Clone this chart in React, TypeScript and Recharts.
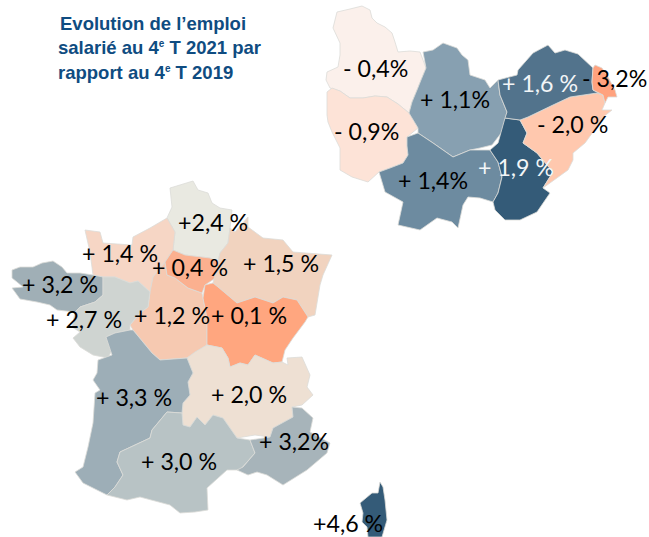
import React from "react";
import { ScatterChart, Scatter, XAxis, YAxis } from "recharts";

type Pt = [number, number];

// Bourgogne-Franche-Comte departments (map space = picture pixels)
const yonne: Pt[] = [[337,12],[350,9],[362,6],[370,10],[372,18],[377,23],[385,27],[392,33],[395,42],[398,52],[410,51],[420,52],[426,68],[421,80],[417,90],[412,102],[409,113],[398,104],[387,97],[375,96],[363,98],[350,98],[340,91],[330,88],[326,80],[327,72],[338,67],[340,55],[340,43],[333,28]];
const nievre: Pt[] = [[327,92],[332,88],[340,91],[350,98],[363,98],[375,96],[387,97],[398,104],[409,113],[414,120],[418,128],[407,137],[407,146],[408,155],[403,163],[390,168],[379,172],[368,182],[352,177],[340,170],[340,148],[332,132],[328,122],[327,115]];
const coteDor: Pt[] = [[423,52],[433,50],[443,43],[457,48],[462,55],[468,60],[470,75],[485,80],[490,88],[498,80],[500,95],[507,112],[505,120],[502,132],[492,145],[480,148],[470,150],[453,157],[443,150],[433,143],[418,133],[418,128],[409,113],[412,102],[417,90],[421,80],[426,68]];
const saoneLoire: Pt[] = [[407,137],[418,133],[433,143],[443,150],[453,157],[470,150],[490,150],[498,162],[502,177],[498,193],[493,202],[480,198],[468,197],[463,205],[458,228],[452,222],[437,218],[420,230],[398,225],[403,202],[385,192],[379,172],[390,168],[403,163],[408,155],[407,146]];
const jura: Pt[] = [[505,118],[520,120],[527,133],[523,143],[537,153],[553,172],[543,188],[550,193],[537,212],[520,220],[505,220],[495,210],[493,202],[498,193],[502,177],[498,162],[490,150],[498,143]];
const doubs: Pt[] = [[520,120],[528,117],[553,105],[570,97],[597,93],[603,95],[605,103],[602,110],[612,110],[602,118],[593,132],[585,143],[573,153],[573,160],[568,170],[543,188],[553,172],[537,153],[523,143],[527,133]];
const hauteSaone: Pt[] = [[498,80],[517,75],[518,70],[533,53],[548,45],[555,53],[565,50],[578,54],[593,68],[592,82],[593,90],[603,95],[597,93],[570,97],[553,105],[528,117],[520,120],[505,118],[507,112],[500,95]];
const belfort: Pt[] = [[595,65],[602,68],[608,77],[615,90],[617,97],[608,97],[605,103],[603,95],[593,90],[592,82],[593,68]];

// France regions
const hautsDeFrance: Pt[] = [[170,188],[193,181],[198,190],[208,193],[212,203],[220,208],[232,210],[230,228],[228,243],[220,253],[218,262],[210,258],[185,255],[173,250],[175,232],[167,218],[172,207]];
const normandie: Pt[] = [[85,230],[100,232],[103,243],[132,245],[133,237],[150,228],[167,218],[175,232],[173,250],[165,262],[153,277],[150,292],[138,281],[130,283],[115,277],[103,277],[93,275],[90,252]];
const ileDeFrance: Pt[] = [[173,250],[185,255],[210,258],[218,262],[217,277],[205,285],[202,293],[188,288],[175,278],[167,275],[165,262]];
const grandEst: Pt[] = [[248,217],[248,227],[263,238],[283,240],[293,252],[332,255],[323,275],[320,285],[315,315],[308,317],[297,300],[283,297],[273,303],[255,297],[237,303],[218,287],[213,283],[218,262],[220,253],[228,243],[230,228],[235,232]];
const bretagne: Pt[] = [[12,270],[20,267],[33,267],[42,263],[53,261],[62,267],[67,273],[80,273],[93,275],[103,277],[103,295],[95,302],[80,307],[75,312],[57,310],[50,305],[37,302],[20,299],[12,288],[23,287],[17,282],[12,278]];
const paysDeLaLoire: Pt[] = [[103,277],[115,277],[130,283],[138,281],[150,292],[148,307],[140,313],[130,325],[130,330],[115,333],[106,337],[112,350],[108,358],[93,355],[80,347],[73,338],[80,332],[72,327],[75,312],[80,307],[95,302],[103,295]];
const centreVal: Pt[] = [[150,292],[153,277],[165,262],[167,275],[175,278],[188,288],[202,293],[203,298],[207,318],[207,345],[187,358],[160,360],[152,353],[133,330],[130,325],[140,313],[148,307]];
const bourgogneFC: Pt[] = [[205,285],[213,283],[218,287],[237,303],[255,297],[273,303],[283,297],[297,300],[308,317],[305,322],[293,338],[285,350],[282,362],[273,363],[255,355],[248,365],[240,363],[230,367],[228,358],[222,348],[207,345],[207,318],[203,298]];
const auvergneRA: Pt[] = [[207,345],[222,348],[228,358],[230,367],[240,363],[248,365],[255,355],[273,363],[282,362],[288,365],[287,358],[302,357],[310,375],[307,387],[313,395],[302,405],[292,407],[293,417],[273,428],[270,437],[255,435],[237,438],[223,418],[213,415],[205,425],[197,417],[190,427],[183,425],[182,413],[183,403],[190,395],[188,382],[193,373],[187,358],[195,352]];
const nouvelleAquitaine: Pt[] = [[106,337],[115,333],[130,330],[133,330],[152,353],[160,360],[187,358],[193,373],[188,382],[190,395],[183,403],[182,413],[167,412],[152,430],[150,438],[120,452],[117,462],[123,475],[115,487],[107,495],[83,483],[75,472],[83,467],[88,447],[93,423],[95,393],[100,390],[93,380],[97,373],[98,360],[112,355]];
const occitanie: Pt[] = [[167,412],[182,413],[183,425],[190,427],[197,417],[205,425],[213,415],[223,418],[237,438],[250,440],[255,453],[240,470],[227,470],[207,488],[208,510],[195,512],[180,513],[170,505],[140,497],[127,500],[107,495],[115,487],[123,475],[117,462],[120,452],[150,438],[152,430]];
const paca: Pt[] = [[292,407],[302,408],[313,418],[310,432],[330,443],[327,453],[307,470],[283,485],[267,475],[257,472],[248,475],[237,470],[243,467],[255,453],[250,440],[270,437],[273,428],[293,417]];
const corse: Pt[] = [[380,482],[383,487],[385,500],[387,520],[382,537],[368,537],[367,527],[362,522],[363,513],[360,503],[372,493],[378,493]];

const regionShapes = [yonne, nievre, coteDor, saoneLoire, jura, doubs, hauteSaone, belfort, hautsDeFrance, normandie, centreVal, ileDeFrance, grandEst, bretagne, paysDeLaLoire, bourgogneFC, auvergneRA, nouvelleAquitaine, occitanie, paca, corse];
const regionColors = ["#fbf0eb", "#fde3d7", "#87a0b1", "#6d8ba0", "#345b78", "#ffc8ae", "#52738c", "#ffa27e", "#e9e9e1", "#f6d6c5", "#f6c9b1", "#fbb08f", "#f1d3bf", "#a0afb6", "#cfd4d1", "#ffa67f", "#eee0d3", "#9daeb7", "#b8c3c5", "#a7b4ba", "#345b78"];

const labelTexts = ["- 0,4%", "+ 1,1%", "+ 1,6 %", "- 3,2%", "- 2,0 %", "- 0,9%", "+ 1,4%", "+ 1,9 %", "+2,4 %", "+ 1,4 %", "+ 0,4 %", "+ 1,5 %", "+ 3,2 %", "+ 2,7 %", "+ 1,2 %", "+ 0,1 %", "+ 3,3 %", "+ 2,0 %", "+ 3,2%", "+ 3,0 %", "+4,6 %"];
const labelX = [343, 420, 502, 582, 537, 334, 398, 478, 178, 82, 152, 243, 22, 46, 134, 211, 96, 211, 259, 141, 313];
const labelY = [77, 108, 92, 87, 133, 140, 189, 176, 231, 262, 276, 272, 293, 328, 324, 324, 406, 403, 450, 470, 532];
const labelColors = labelTexts.map((_, i) => (i === 2 || i === 7 ? "#f2f5f7" : "#000000"));

const labelData = labelTexts.map((text, i) => ({ x: labelX[i], y: labelY[i], text, color: labelColors[i] }));

const noDot = () => <g />;

const MapLabel = (props: any) => (
    <text x={props.cx} y={props.cy} fontFamily="Lato, sans-serif" fontSize={23.2} fill={props.payload.color}>
        {props.payload.text}
    </text>
);

const titleStyle: React.CSSProperties = {
    position: "absolute",
    fontFamily: "'Liberation Sans', Arial, sans-serif",
    fontWeight: 700,
    fontSize: 18.5,
    lineHeight: "20px",
    color: "#0f4c81",
    whiteSpace: "nowrap",
};
const supStyle: React.CSSProperties = { fontSize: 10, verticalAlign: "7px", lineHeight: 0 };

export default function App() {
    return (
        <div style={{ position: "absolute", left: 0, top: 0, width: 649, height: 537, background: "#fff", overflow: "hidden" }}>
            <ScatterChart width={649} height={537} margin={{ top: 0, right: 0, bottom: 0, left: 0 }}>
                <XAxis type="number" dataKey="x" domain={[0, 649]} hide />
                <YAxis type="number" dataKey="y" domain={[0, 537]} reversed hide />
                {regionShapes.map((outline, i) => (
                    <Scatter
                        key={i}
                        data={outline.map(([x, y]) => ({ x, y }))}
                        isAnimationActive={false}
                        shape={noDot}
                        line={(p: any) => (
                            <polygon
                                points={p.points.map((q: any) => `${q.x},${q.y}`).join(" ")}
                                fill={regionColors[i]}
                                stroke="#dcdcd8"
                                strokeWidth={0.8}
                                strokeLinejoin="round"
                            />
                        )}
                    />
                ))}
                <Scatter data={labelData} isAnimationActive={false} shape={MapLabel} />
            </ScatterChart>
            <div style={{ ...titleStyle, left: 60, top: 14 }}>Evolution de l’emploi</div>
            <div style={{ ...titleStyle, left: 58, top: 38 }}>
                salarié au 4<span style={supStyle}>e</span> T 2021 par
            </div>
            <div style={{ ...titleStyle, left: 58, top: 63 }}>
                rapport au 4<span style={supStyle}>e</span> T 2019
            </div>
        </div>
    );
}
